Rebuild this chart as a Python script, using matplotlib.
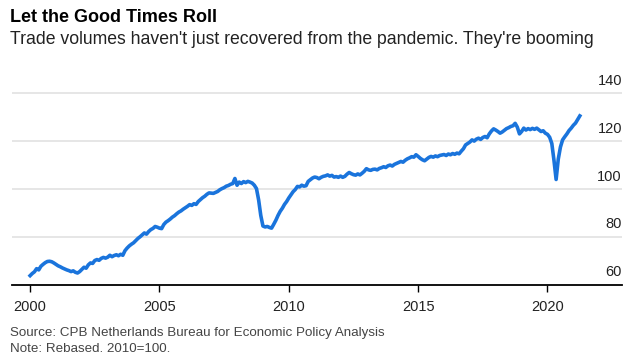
import numpy as np
import matplotlib
matplotlib.use("Agg")
import matplotlib.pyplot as plt

plt.rcParams['font.family'] = ['Liberation Sans', 'DejaVu Sans']

# World trade volume, monthly, Jan 2000 - Apr 2021 (2010=100)
trade_2000 = [63.9, 64.8, 65.5, 66.8, 66.3, 67.8, 68.6, 69.3, 69.8, 69.9, 69.7, 69.2]
trade_2001 = [68.6, 68.0, 67.6, 67.1, 66.7, 66.3, 66.0, 65.6, 65.9, 65.3, 65.0, 65.6]
trade_2002 = [66.5, 67.4, 67.0, 68.4, 69.2, 69.0, 70.2, 70.6, 70.3, 71.1, 71.5, 71.2]
trade_2003 = [71.6, 72.4, 71.8, 72.3, 72.6, 72.2, 72.8, 72.4, 74.3, 75.4, 76.3, 77.0]
trade_2004 = [77.6, 78.5, 79.4, 80.1, 80.9, 81.7, 81.2, 82.3, 83.1, 83.6, 84.4, 84.1]
trade_2005 = [83.7, 83.5, 85.2, 86.2, 86.8, 87.5, 88.3, 88.9, 89.7, 90.4, 90.9, 91.6]
trade_2006 = [92.2, 92.8, 93.5, 93.2, 93.9, 93.6, 94.8, 95.6, 96.4, 97.0, 97.8, 98.4]
trade_2007 = [98.3, 98.2, 98.6, 99.0, 99.7, 100.2, 100.6, 101.2, 101.5, 102.0, 102.3, 104.4]
trade_2008 = [101.6, 102.9, 102.3, 103.1, 102.7, 103.2, 102.9, 102.5, 101.6, 100.2, 95.5, 89.0]
trade_2009 = [84.6, 84.2, 84.4, 84.0, 83.7, 85.3, 87.0, 89.0, 90.7, 92.0, 93.6, 94.8]
trade_2010 = [96.3, 97.6, 98.9, 99.8, 101.1, 100.9, 101.6, 101.2, 101.4, 103.2, 103.9, 104.6]
trade_2011 = [105.0, 104.8, 104.3, 104.9, 105.3, 105.5, 105.9, 105.4, 105.7, 105.0, 105.2, 104.9]
trade_2012 = [105.4, 104.9, 105.3, 106.2, 106.9, 106.4, 106.0, 105.8, 106.3, 105.9, 106.6, 107.4]
trade_2013 = [108.5, 108.0, 107.8, 108.2, 108.3, 108.0, 108.6, 108.9, 109.3, 109.0, 109.7, 110.0]
trade_2014 = [109.6, 110.3, 110.7, 111.1, 111.5, 111.2, 112.0, 112.6, 113.0, 113.5, 113.3, 114.3]
trade_2015 = [113.6, 112.8, 112.2, 111.8, 112.5, 113.2, 113.6, 113.3, 113.8, 113.5, 114.0, 114.2]
trade_2016 = [114.4, 114.0, 114.6, 114.3, 114.8, 114.5, 115.0, 114.7, 115.8, 116.8, 118.4, 119.0]
trade_2017 = [119.6, 120.5, 120.0, 120.8, 121.2, 120.7, 121.5, 121.9, 121.4, 123.0, 124.2, 125.1]
trade_2018 = [124.6, 124.0, 123.3, 123.8, 124.5, 125.2, 125.6, 126.1, 126.4, 127.4, 125.8, 123.0]
trade_2019 = [124.0, 125.4, 124.6, 125.2, 124.8, 125.3, 124.9, 125.4, 124.7, 124.0, 124.3, 123.3]
trade_2020 = [122.8, 121.6, 119.0, 112.0, 104.0, 112.5, 117.5, 120.5, 121.8, 123.0, 124.4, 125.4]
trade_2021 = [126.6, 127.5, 129.0, 130.5]

values = (trade_2000 + trade_2001 + trade_2002 + trade_2003 + trade_2004 + trade_2005
          + trade_2006 + trade_2007 + trade_2008 + trade_2009 + trade_2010 + trade_2011
          + trade_2012 + trade_2013 + trade_2014 + trade_2015 + trade_2016 + trade_2017
          + trade_2018 + trade_2019 + trade_2020 + trade_2021)
x = 2000 + np.arange(len(values)) / 12

year_ticks = [2000, 2005, 2010, 2015, 2020]
y_ticks = [60, 80, 100, 120, 140]

fig = plt.figure(figsize=(6.36, 3.6), dpi=100)
ax = fig.add_axes([12 / 636, 75 / 360, 610 / 636, 0.768 - 75 / 360])

for v in y_ticks[1:]:
    ax.axhline(v, color='#e6e6e6', lw=1.4, zorder=1)

ax.plot(x, values, color='#1a74dc', lw=2.6, solid_joinstyle='round', zorder=3)

ax.set_xlim(1999.30, 2022.88)
ax.set_ylim(60, 144)
ax.set_xticks(year_ticks)
ax.set_xticklabels([str(y) for y in year_ticks], fontsize=10.5, color='#222222')
ax.tick_params(axis='x', length=5, width=1, color='black', pad=6)
ax.set_yticks([])

for s in ['top', 'right', 'left']:
    ax.spines[s].set_visible(False)
ax.spines['bottom'].set_linewidth(1.3)
ax.spines['bottom'].set_color('black')

# y tick labels sit above their gridlines at the right edge
for v in y_ticks:
    ax.annotate(str(v), xy=(1.0, v), xycoords=('axes fraction', 'data'),
                xytext=(0, 4), textcoords='offset points',
                ha='right', va='bottom', fontsize=10.5, color='#222222')

fig.text(10 / 636, 1 - 18 / 360, "Let the Good Times Roll", fontsize=13,
         fontweight='bold', ha='left', va='center', color='black')
fig.text(10 / 636, 1 - 39 / 360,
         "Trade volumes haven't just recovered from the pandemic. They're booming",
         fontsize=12.7, ha='left', va='center', color='#222222')
fig.text(10 / 636, 1 - 333 / 360,
         "Source: CPB Netherlands Bureau for Economic Policy Analysis",
         fontsize=9.6, ha='left', va='center', color='#444444')
fig.text(10 / 636, 1 - 349 / 360, "Note: Rebased. 2010=100.",
         fontsize=9.6, ha='left', va='center', color='#444444')

fig.savefig('out.png', dpi=100)
